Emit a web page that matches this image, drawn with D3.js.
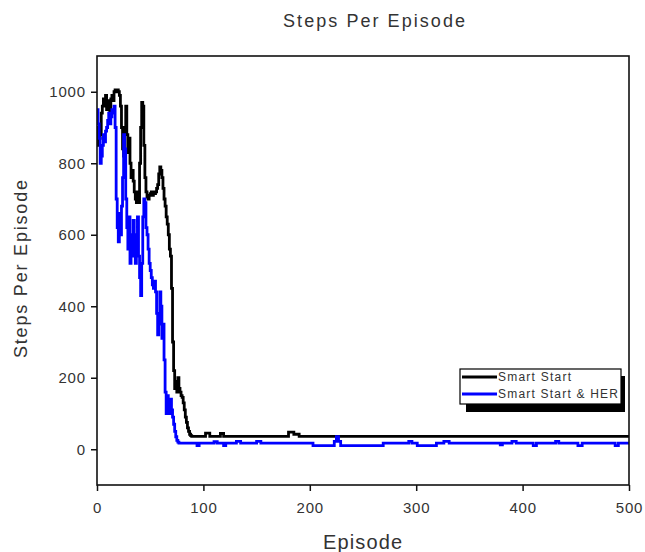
<!DOCTYPE html>
<html>
<head>
<meta charset="utf-8">
<script src="https://cdn.jsdelivr.net/npm/d3@7/dist/d3.min.js"></script>
<style>
  html, body { margin: 0; padding: 0; background: #fff; }
  svg { display: block; }
  text { font-family: "Liberation Sans", Arial, sans-serif; fill: #333; }
</style>
</head>
<body>
<svg id="chart" width="645" height="552"></svg>
<script>
// ---------- data ----------
const chartTitle = "Steps Per Episode";
const xTitle = "Episode";
const yTitle = "Steps Per Episode";
const seriesNames = ["Smart Start", "Smart Start & HER"];
const seriesColors = ["#000000", "#0000ff"];
const xTicks = [0, 100, 200, 300, 400, 500];
const yTicks = [0, 200, 400, 600, 800, 1000];

// Smart Start: one value per episode, episodes 0..89
const smartStartEarly = [
  850, 900, 870, 880, 940, 960, 980, 960, 990, 950,
  975, 960, 940, 980, 990, 975, 1000, 1005, 1000, 1005,
  1000, 990, 960, 900, 840, 820, 900, 960, 880, 830,
  870, 800, 760, 780, 750, 720, 700, 690, 720, 690,
  800, 900, 970, 960, 850, 760, 720, 705, 700, 710,
  715, 720, 710, 720, 715, 720, 730, 740, 770, 790,
  780, 760, 730, 700, 680, 650, 630, 600, 560, 540,
  450, 300, 220, 170, 190, 160, 200, 170, 160, 150,
  145, 130, 110, 90, 75, 60, 50, 42, 38, 36
];
// Smart Start: later level changes [episode, value]
const smartStartLate = [
  [90, 36], [102, 45], [106, 36], [116, 44], [119, 36],
  [180, 48], [185, 42], [190, 36], [500, 36]
];

// Smart Start & HER: one value per episode, episodes 0..77
const herEarly = [
  950, 910, 870, 800, 820, 850, 880, 860, 890, 900,
  920, 940, 910, 930, 950, 940, 960, 900, 700, 620,
  580, 660, 600, 680, 760, 880, 840, 700, 620, 560,
  650, 520, 600, 540, 640, 580, 520, 600, 650, 540,
  480, 430, 520, 650, 700, 690, 620, 600, 560, 520,
  500, 480, 460, 450, 470, 440, 380, 320, 350, 440,
  400, 310, 350, 250, 160, 100, 150, 120, 100, 140,
  110, 90, 70, 50, 35, 25, 20, 17
];
// Smart Start & HER: later level changes [episode, value]
const herLate = [
  [78, 17], [94, 10], [96, 17], [110, 21], [113, 17], [119, 10], [121, 17],
  [131, 22], [135, 17], [150, 22], [154, 17], [203, 10], [223, 22], [225, 35],
  [227, 22], [229, 10], [269, 17], [293, 22], [296, 17], [301, 10], [319, 17],
  [326, 22], [331, 17], [379, 12], [381, 17], [390, 22], [394, 17], [410, 10],
  [413, 17], [431, 22], [434, 17], [452, 10], [456, 17], [487, 10], [490, 17],
  [500, 17]
];

// ---------- build series ----------
function build(early, late) {
  const pts = early.map((v, i) => ({ x: i, y: v }));
  late.forEach(([e, v]) => pts.push({ x: e, y: v }));
  return pts;
}
const series = [
  build(smartStartEarly, smartStartLate),
  build(herEarly, herLate)
];

// ---------- layout ----------
const svg = d3.select("#chart");
const plot = { left: 97, right: 629, top: 56, bottom: 485 };

const x = d3.scaleLinear().domain([0, 500]).range([plot.left, plot.right]);
const y = d3.scaleLinear().domain([-100, 1100]).range([plot.bottom, plot.top]);

svg.append("clipPath").attr("id", "clip")
  .append("rect")
  .attr("x", plot.left).attr("y", plot.top)
  .attr("width", plot.right - plot.left).attr("height", plot.bottom - plot.top);

const line = d3.line().x(d => x(d.x)).y(d => y(d.y)).curve(d3.curveStepAfter);
const g = svg.append("g").attr("clip-path", "url(#clip)");
series.forEach((s, i) => {
  g.append("path").datum(s)
    .attr("d", line)
    .attr("fill", "none")
    .attr("stroke", seriesColors[i])
    .attr("stroke-width", 2.8)
    .attr("stroke-linejoin", "miter");
});

// frame
svg.append("rect")
  .attr("x", plot.left).attr("y", plot.top)
  .attr("width", plot.right - plot.left).attr("height", plot.bottom - plot.top)
  .attr("fill", "none").attr("stroke", "#111").attr("stroke-width", 1.6);

// axes
const yAxis = d3.axisLeft(y).tickValues(yTicks).tickFormat(d3.format("d")).tickSize(6).tickPadding(6);
const xAxis = d3.axisBottom(x).tickValues(xTicks).tickFormat(d3.format("d")).tickSize(6).tickPadding(11);

const ya = svg.append("g").attr("transform", `translate(${plot.left},0)`).call(yAxis);
const xa = svg.append("g").attr("transform", `translate(0,${plot.bottom})`).call(xAxis);
[ya, xa].forEach(a => {
  a.select(".domain").remove();
  a.selectAll(".tick line").attr("stroke", "#111").attr("stroke-width", 1.5);
  a.selectAll(".tick text")
    .attr("font-family", "Liberation Sans, Arial, sans-serif")
    .attr("font-size", 15)
    .attr("fill", "#333")
    .attr("letter-spacing", "0.8px");
});
ya.selectAll(".tick text").attr("dx", "0.8px");

// titles
svg.append("text")
  .attr("x", 283).attr("y", 27)
  .attr("font-size", 18)
  .attr("textLength", 182).attr("lengthAdjust", "spacing")
  .text(chartTitle);

svg.append("text")
  .attr("x", 323).attr("y", 549)
  .attr("font-size", 20)
  .attr("textLength", 79).attr("lengthAdjust", "spacing")
  .text(xTitle);

svg.append("text")
  .attr("transform", "translate(27,358) rotate(-90)")
  .attr("font-size", 18)
  .attr("textLength", 178).attr("lengthAdjust", "spacing")
  .text(yTitle);

// legend
const lg = svg.append("g");
lg.append("rect").attr("x", 466).attr("y", 376).attr("width", 159).attr("height", 36).attr("fill", "#000");
lg.append("rect").attr("x", 460).attr("y", 369).attr("width", 161).attr("height", 35)
  .attr("fill", "#fff").attr("stroke", "#000").attr("stroke-width", 1.2);
const legendY = [377, 394];
const legendLen = [73, 120];
seriesNames.forEach((n, i) => {
  lg.append("line")
    .attr("x1", 462).attr("x2", 497)
    .attr("y1", legendY[i]).attr("y2", legendY[i])
    .attr("stroke", seriesColors[i]).attr("stroke-width", 2.8);
  lg.append("text")
    .attr("x", 498).attr("y", legendY[i] + 4)
    .attr("font-size", 12)
    .attr("textLength", legendLen[i]).attr("lengthAdjust", "spacing")
    .text(n);
});
</script>
</body>
</html>
